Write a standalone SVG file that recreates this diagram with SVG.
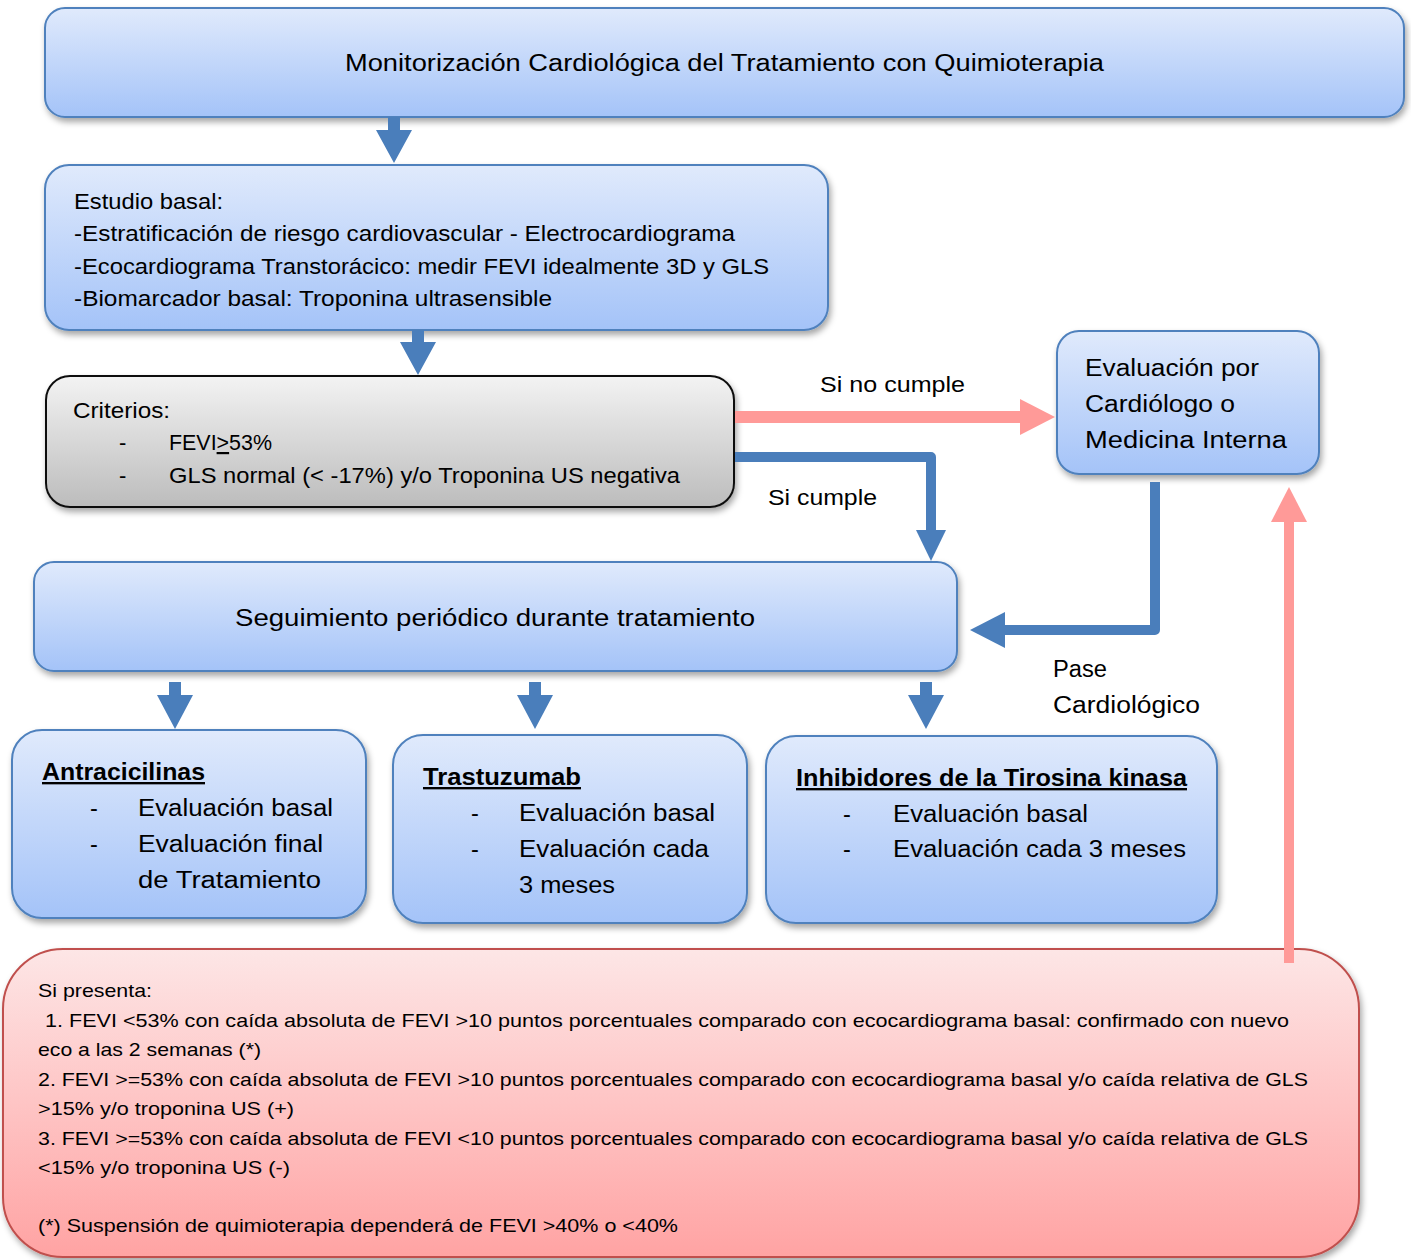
<svg xmlns="http://www.w3.org/2000/svg" width="1411" height="1260" viewBox="0 0 1411 1260">
<defs>
<linearGradient id="gBlue" x1="0" y1="0" x2="0" y2="1">
<stop offset="0" stop-color="#e0eafc"/>
<stop offset="1" stop-color="#a4c3f8"/>
</linearGradient>
<linearGradient id="gGray" x1="0" y1="0" x2="0" y2="1">
<stop offset="0" stop-color="#f3f3f3"/>
<stop offset="1" stop-color="#bcbcbc"/>
</linearGradient>
<linearGradient id="gPink" x1="0" y1="0" x2="0" y2="1">
<stop offset="0" stop-color="#fde6e6"/>
<stop offset="1" stop-color="#ffa3a3"/>
</linearGradient>
<filter id="sh" x="-10%" y="-10%" width="120%" height="130%">
<feDropShadow dx="2" dy="4" stdDeviation="3" flood-color="#000" flood-opacity="0.35"/>
</filter>
</defs>
<style>
.blue{fill:url(#gBlue);stroke:#4f81bd;stroke-width:2;filter:url(#sh)}
.gray{fill:url(#gGray);stroke:#111;stroke-width:2;filter:url(#sh)}
.pink{fill:url(#gPink);stroke:#c0504d;stroke-width:2;filter:url(#sh)}
text{font-family:"Liberation Sans",Arial,sans-serif;fill:#000}
.t22{font-size:22px}
.t23{font-size:23.5px}
.t18{font-size:19px}
.b{font-weight:bold;text-decoration:underline}
.ab{fill:#4a7ebb}
.ar{fill:#ff9a98}
.lb{fill:none;stroke:#4a7ebb;stroke-width:10;stroke-linejoin:round}
</style>

<g id="node-title">
<rect class="blue" x="45" y="8" width="1359" height="109" rx="20"/>
<text class="t23" x="345" y="71" textLength="759" lengthAdjust="spacingAndGlyphs">Monitorización Cardiológica del Tratamiento con Quimioterapia</text>
</g>

<g id="node-basal">
<rect class="blue" x="45" y="165" width="783" height="165" rx="24"/>
<text class="t22" x="74" y="209" textLength="149" lengthAdjust="spacingAndGlyphs">Estudio basal:</text>
<text class="t22" x="74" y="241" textLength="661" lengthAdjust="spacingAndGlyphs">-Estratificación de riesgo cardiovascular - Electrocardiograma</text>
<text class="t22" x="74" y="274" textLength="695" lengthAdjust="spacingAndGlyphs">-Ecocardiograma Transtorácico: medir FEVI idealmente 3D y GLS</text>
<text class="t22" x="74" y="306" textLength="478" lengthAdjust="spacingAndGlyphs">-Biomarcador basal: Troponina ultrasensible</text>
</g>

<g id="node-criterios">
<rect class="gray" x="46" y="376" width="688" height="131" rx="24"/>
<text class="t22" x="73" y="418" textLength="97" lengthAdjust="spacingAndGlyphs">Criterios:</text>
<text class="t22" x="119" y="450">-</text>
<text class="t22" x="169" y="450" textLength="103" lengthAdjust="spacingAndGlyphs">FEVI<tspan text-decoration="underline">&gt;</tspan>53%</text>
<text class="t22" x="119" y="483">-</text>
<text class="t22" x="169" y="483" textLength="511" lengthAdjust="spacingAndGlyphs">GLS normal (&lt; -17%) y/o Troponina US negativa</text>
</g>

<g id="node-evaluacion">
<rect class="blue" x="1057" y="331" width="262" height="143" rx="22"/>
<text class="t23" x="1085" y="376" textLength="174" lengthAdjust="spacingAndGlyphs">Evaluación por</text>
<text class="t23" x="1085" y="412" textLength="150" lengthAdjust="spacingAndGlyphs">Cardiólogo o</text>
<text class="t23" x="1085" y="448" textLength="202" lengthAdjust="spacingAndGlyphs">Medicina Interna</text>
</g>

<g id="node-seguimiento">
<rect class="blue" x="34" y="562" width="923" height="109" rx="20"/>
<text class="t23" x="235" y="626" textLength="520" lengthAdjust="spacingAndGlyphs">Seguimiento periódico durante tratamiento</text>
</g>

<g id="node-antraciclinas">
<rect class="blue" x="12" y="730" width="354" height="188" rx="30"/>
<text class="t23 b" x="42" y="780" textLength="163" lengthAdjust="spacingAndGlyphs">Antracicilinas</text>
<text class="t23" x="90" y="816">-</text>
<text class="t23" x="138" y="816" textLength="195" lengthAdjust="spacingAndGlyphs">Evaluación basal</text>
<text class="t23" x="90" y="852">-</text>
<text class="t23" x="138" y="852" textLength="185" lengthAdjust="spacingAndGlyphs">Evaluación final</text>
<text class="t23" x="138" y="888" textLength="183" lengthAdjust="spacingAndGlyphs">de Tratamiento</text>
</g>

<g id="node-trastuzumab">
<rect class="blue" x="393" y="735" width="354" height="188" rx="30"/>
<text class="t23 b" x="423" y="785" textLength="158" lengthAdjust="spacingAndGlyphs">Trastuzumab</text>
<text class="t23" x="471" y="821">-</text>
<text class="t23" x="519" y="821" textLength="196" lengthAdjust="spacingAndGlyphs">Evaluación basal</text>
<text class="t23" x="471" y="857">-</text>
<text class="t23" x="519" y="857" textLength="190" lengthAdjust="spacingAndGlyphs">Evaluación cada</text>
<text class="t23" x="519" y="893" textLength="96" lengthAdjust="spacingAndGlyphs">3 meses</text>
</g>

<g id="node-inhibidores">
<rect class="blue" x="766" y="736" width="451" height="187" rx="30"/>
<text class="t23 b" x="796" y="786" textLength="391" lengthAdjust="spacingAndGlyphs">Inhibidores de la Tirosina kinasa</text>
<text class="t23" x="843" y="822">-</text>
<text class="t23" x="893" y="822" textLength="195" lengthAdjust="spacingAndGlyphs">Evaluación basal</text>
<text class="t23" x="843" y="857">-</text>
<text class="t23" x="893" y="857" textLength="293" lengthAdjust="spacingAndGlyphs">Evaluación cada 3 meses</text>
</g>

<g id="node-presenta">
<rect class="pink" x="3" y="949" width="1356" height="308" rx="60"/>
<text class="t18" x="38" y="997" textLength="114" lengthAdjust="spacingAndGlyphs">Si presenta:</text>
<text class="t18" x="45" y="1027" textLength="1244" lengthAdjust="spacingAndGlyphs">1. FEVI &lt;53% con caída absoluta de FEVI &gt;10 puntos porcentuales comparado con ecocardiograma basal: confirmado con nuevo</text>
<text class="t18" x="38" y="1056" textLength="223" lengthAdjust="spacingAndGlyphs">eco a las 2 semanas (*)</text>
<text class="t18" x="38" y="1086" textLength="1270" lengthAdjust="spacingAndGlyphs">2. FEVI &gt;=53% con caída absoluta de FEVI &gt;10 puntos porcentuales comparado con ecocardiograma basal y/o caída relativa de GLS</text>
<text class="t18" x="38" y="1115" textLength="256" lengthAdjust="spacingAndGlyphs">&gt;15% y/o troponina US (+)</text>
<text class="t18" x="38" y="1145" textLength="1270" lengthAdjust="spacingAndGlyphs">3. FEVI &gt;=53% con caída absoluta de FEVI &lt;10 puntos porcentuales comparado con ecocardiograma basal y/o caída relativa de GLS</text>
<text class="t18" x="38" y="1174" textLength="252" lengthAdjust="spacingAndGlyphs">&lt;15% y/o troponina US (-)</text>
<text class="t18" x="38" y="1232" textLength="640" lengthAdjust="spacingAndGlyphs">(*) Suspensión de quimioterapia dependerá de FEVI &gt;40% o &lt;40%</text>
</g>

<g id="connectors">
<polygon class="ab" points="388,117 400,117 400,130 412,130 394,163 376,130 388,130"/>
<polygon class="ab" points="412,330 424,330 424,342 436,342 418,375 400,342 412,342"/>
<rect class="ar" x="735" y="411" width="287" height="12"/>
<polygon class="ar" points="1020,399 1055,417 1020,435"/>
<path class="lb" d="M735,457 H931 V532"/>
<polygon class="ab" points="916,530 946,530 931,561"/>
<path class="lb" d="M1155,482 V630 H1003"/>
<polygon class="ab" points="1005,612 1005,648 970,630"/>
<rect class="ar" x="1284" y="520" width="10" height="443"/>
<polygon class="ar" points="1271,522 1307,522 1289,487"/>
<polygon class="ab" points="169,682 181,682 181,695 193,695 175,729 157,695 169,695"/>
<polygon class="ab" points="529,682 541,682 541,695 553,695 535,729 517,695 529,695"/>
<polygon class="ab" points="920,682 932,682 932,695 944,695 926,729 908,695 920,695"/>
<text class="t22" x="820" y="392" textLength="145" lengthAdjust="spacingAndGlyphs">Si no cumple</text>
<text class="t22" x="768" y="505" textLength="109" lengthAdjust="spacingAndGlyphs">Si cumple</text>
<text class="t23" x="1053" y="677" textLength="54" lengthAdjust="spacingAndGlyphs">Pase</text>
<text class="t23" x="1053" y="713" textLength="147" lengthAdjust="spacingAndGlyphs">Cardiológico</text>
</g>
</svg>
